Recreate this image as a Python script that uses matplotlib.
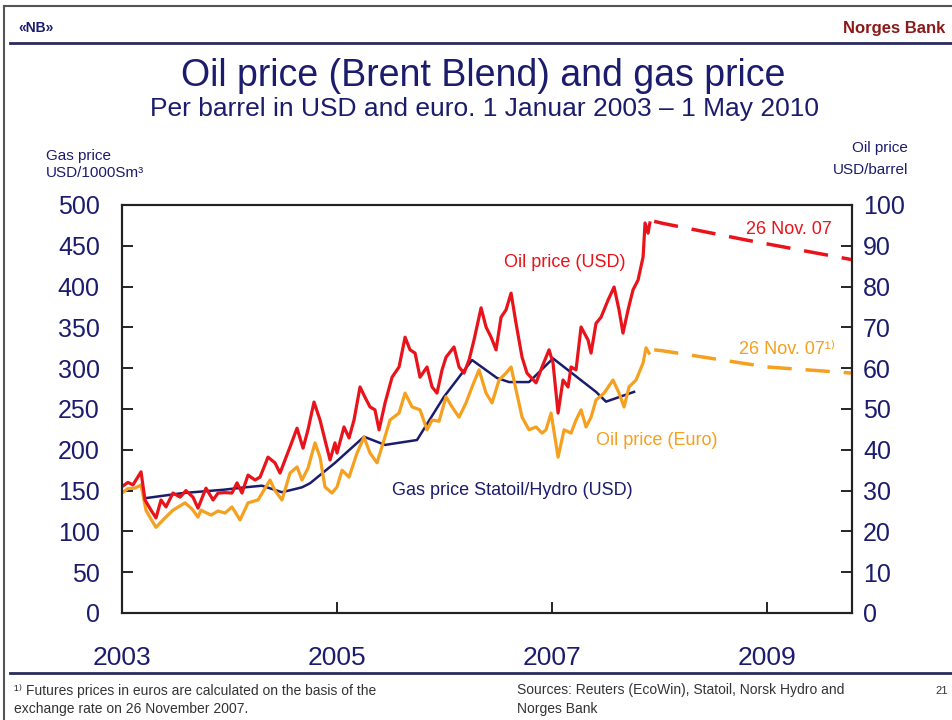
import matplotlib
matplotlib.use('Agg')
import matplotlib.pyplot as plt
from matplotlib.lines import Line2D

plt.rcParams['font.family'] = ['Liberation Sans', 'DejaVu Sans']

NAVY = '#1c1c6e'
RED = '#e8131b'
ORANGE = '#f5a01e'
DARKRED = '#8b1a1a'

# Brent in USD per barrel (decimal years)
usd_t = [2003.000, 2003.056, 2003.102, 2003.177, 2003.214, 2003.270, 2003.316, 2003.363, 2003.409,
         2003.474, 2003.540, 2003.595, 2003.660, 2003.707, 2003.781, 2003.847, 2003.893, 2003.958,
         2004.023, 2004.070, 2004.116, 2004.172, 2004.237, 2004.284, 2004.358, 2004.423, 2004.470,
         2004.516, 2004.563, 2004.628, 2004.684, 2004.730, 2004.786, 2004.842, 2004.888, 2004.935, 2004.981,
         2005.000, 2005.065, 2005.112, 2005.158, 2005.214, 2005.260, 2005.307, 2005.353, 2005.391, 2005.447,
         2005.512, 2005.577, 2005.633, 2005.679, 2005.726, 2005.772, 2005.837, 2005.884, 2005.930, 2005.977,
         2006.014, 2006.088, 2006.135, 2006.181, 2006.228, 2006.274, 2006.340, 2006.386, 2006.433, 2006.479,
         2006.526, 2006.572, 2006.619, 2006.665, 2006.721, 2006.767, 2006.851, 2006.907, 2006.972,
         2007.009, 2007.056, 2007.102, 2007.149, 2007.177, 2007.223, 2007.270, 2007.335, 2007.363, 2007.409,
         2007.456, 2007.521, 2007.577, 2007.623, 2007.660, 2007.707, 2007.753, 2007.800, 2007.847, 2007.865,
         2007.893, 2007.910]
usd_v = [31, 32, 31.4, 34.6, 27.7, 25.2, 23.3, 27.7, 26,
         29.4, 28.4, 30, 28.4, 25.7, 30.6, 27.7, 29.4, 29.5,
         29.4, 31.9, 29.4, 33.8, 32.6, 33.3, 38.2, 36.8, 34.3,
         37.5, 40.7, 45.3, 40.4, 44.9, 51.7, 47.3, 42.4, 37.5, 41.7,
         39.2, 45.6, 42.9, 47.3, 55.4, 52.9, 50.5, 49.8, 44.9, 51.5,
         57.8, 60.3, 67.6, 64.5, 63.7, 57.8, 60.3, 55.4, 53.9, 59.6,
         62.7, 65.2, 60.3, 58.8, 62, 66.9, 74.8, 70.1, 67.6, 64.5,
         72.5, 74.3, 78.4, 71, 62.7, 58.8, 56.4, 60.3, 64.5,
         61.3, 49, 57.1, 55.4, 60.3, 59.6, 70.1, 66.9, 63.7, 71,
         72.5, 76.7, 79.9, 74.3, 68.6, 74.3, 79.2, 81.6, 87.3, 95.6,
         93.1, 95.6]

# Brent in euro per barrel
eur_t = [2003.000, 2003.056, 2003.121, 2003.177, 2003.223, 2003.270, 2003.316, 2003.400, 2003.474,
         2003.586, 2003.651, 2003.707, 2003.735, 2003.828, 2003.893, 2003.958,
         2004.023, 2004.098, 2004.172, 2004.265, 2004.377, 2004.423, 2004.488, 2004.563, 2004.628,
         2004.674, 2004.730, 2004.795, 2004.842, 2004.888, 2004.953,
         2005.000, 2005.047, 2005.112, 2005.186, 2005.251, 2005.307, 2005.372, 2005.437, 2005.493,
         2005.577, 2005.633, 2005.698, 2005.772, 2005.837, 2005.884, 2005.949,
         2006.014, 2006.070, 2006.135, 2006.200, 2006.256, 2006.321, 2006.386, 2006.442, 2006.507,
         2006.572, 2006.619, 2006.665, 2006.721, 2006.786, 2006.851, 2006.907, 2006.944, 2006.991,
         2007.056, 2007.112, 2007.177, 2007.223, 2007.270, 2007.316, 2007.363, 2007.409, 2007.484,
         2007.567, 2007.623, 2007.670, 2007.716, 2007.781, 2007.847, 2007.874, 2007.902]
eur_v = [29.4, 30.5, 30.6, 31.4, 25.2, 23, 21, 23.3, 25.2,
         27, 25.5, 23.5, 25.2, 24, 25, 24.5,
         26, 22.8, 27, 27.7, 32.6, 30, 27.7, 34.3, 35.8,
         32.6, 35.5, 41.7, 38.2, 30.9, 29.4,
         30.9, 35, 33.3, 39.2, 43.1, 39.2, 36.8, 42.4, 47.3,
         49, 53.9, 50.5, 49.8, 44.9, 47.3, 47,
         53, 50.5, 48, 51.5, 55.4, 59.6, 53.9, 51.5, 57.1,
         58.8, 60.3, 54.7, 48, 44.9, 45.6, 44.1, 44.9, 49,
         38.2, 44.9, 44.1, 47.3, 49.8, 45.6, 48, 52.2, 53.9,
         57.1, 53.9, 50.5, 55.4, 57.1, 61.3, 65, 63.7]

# Gas price Statoil/Hydro, USD/1000Sm3
gas_t = [2003.233, 2003.567, 2003.940, 2004.144, 2004.302, 2004.488, 2004.674, 2004.749, 2004.981,
         2005.251, 2005.447, 2005.744, 2005.995, 2006.256, 2006.488, 2006.600, 2006.786, 2007.009,
         2007.409, 2007.502, 2007.763]
gas_v = [141, 147, 151, 154, 156, 148, 154, 159, 184,
         216, 206, 212, 265, 310, 288, 283, 283, 312,
         271, 259, 271]

# futures per 26 Nov. 07
fut_usd_t = [2007.95, 2008.03, 2008.81, 2009.79]
fut_usd_v = [96, 95.5, 91.4, 86.6]
fut_eur_t = [2007.95, 2008.02, 2009.00, 2009.79]
fut_eur_v = [64.5, 64.3, 60.3, 58.8]

year_ticks = [2003, 2005, 2007, 2009]
gas_ticks = list(range(0, 501, 50))
oil_ticks = list(range(0, 101, 10))

W, H = 952, 720


def fx(px):
    return px / W


def fy(py):
    return 1 - py / H


fig = plt.figure(figsize=(9.52, 7.2), dpi=100)

# slide frame and header/footer rules
fig.add_artist(Line2D([fx(4), 1], [fy(6), fy(6)], color='#555555', lw=1.5))
fig.add_artist(Line2D([fx(4), fx(4)], [fy(6), 0], color='#555555', lw=1.5))
fig.add_artist(Line2D([fx(10), 1], [fy(43), fy(43)], color='#2b2b5e', lw=2))
fig.add_artist(Line2D([fx(10), 1], [fy(673), fy(673)], color='#2b2b5e', lw=2))

fig.text(fx(18), fy(28), '«NB»', color=NAVY, fontsize=10, fontweight='bold', va='center')
fig.text(fx(945), fy(28), 'Norges Bank', color=DARKRED, fontsize=12, fontweight='bold',
         ha='right', va='center')
fig.text(fx(483), fy(76), 'Oil price (Brent Blend) and gas price', color=NAVY, fontsize=27,
         ha='center', va='center')
fig.text(fx(485), fy(109), 'Per barrel in USD and euro. 1 Januar 2003 – 1 May 2010', color=NAVY,
         fontsize=19, ha='center', va='center')

fig.text(fx(46), fy(156), 'Gas price', color=NAVY, fontsize=11, va='center')
fig.text(fx(46), fy(173), 'USD/1000Sm³', color=NAVY, fontsize=11, va='center')
fig.text(fx(908), fy(148), 'Oil price', color=NAVY, fontsize=11, ha='right', va='center')
fig.text(fx(908), fy(170), 'USD/barrel', color=NAVY, fontsize=11, ha='right', va='center')

fig.text(fx(14), fy(691), '¹⁾ Futures prices in euros are calculated on the basis of the',
         color='#333333', fontsize=10, va='center')
fig.text(fx(14), fy(709), 'exchange rate on 26 November 2007.', color='#333333', fontsize=10, va='center')
fig.text(fx(517), fy(690), 'Sources: Reuters (EcoWin), Statoil, Norsk Hydro and',
         color='#333333', fontsize=10, va='center')
fig.text(fx(517), fy(709), 'Norges Bank', color='#333333', fontsize=10, va='center')
fig.text(fx(935), fy(691), '21', color='#333333', fontsize=8, va='center')

ax = fig.add_axes([fx(122), fy(613), (852 - 122) / W, (613 - 205) / H])
ax2 = ax.twinx()

ax.plot(gas_t, gas_v, color=NAVY, lw=1.8)
ax2.plot(eur_t, eur_v, color=ORANGE, lw=2.3)
ax2.plot(usd_t, usd_v, color=RED, lw=2.3)
ax2.plot(fut_usd_t, fut_usd_v, color=RED, lw=2.5, dashes=(7, 4))
ax2.plot(fut_eur_t, fut_eur_v, color=ORANGE, lw=2.5, dashes=(7, 4))

ax2.text(2007.12, 86, 'Oil price (USD)', color=RED, fontsize=13, ha='center', va='center')
ax2.text(2007.97, 42.2, 'Oil price (Euro)', color=ORANGE, fontsize=13, ha='center', va='center')
ax2.text(2006.63, 30.1, 'Gas price Statoil/Hydro (USD)', color=NAVY, fontsize=13,
         ha='center', va='center')
ax2.text(2009.2, 94.1, '26 Nov. 07', color=RED, fontsize=13, ha='center', va='center')
ax2.text(2009.19, 64.5, '26 Nov. 07¹⁾', color=ORANGE, fontsize=13, ha='center', va='center')

ax.set_xlim(2003, 2009.79)
ax.set_ylim(0, 500)
ax2.set_ylim(0, 100)

ax.set_xticks(year_ticks)
ax.set_xticklabels([str(y) for y in year_ticks])
ax.set_yticks(gas_ticks)
ax2.set_yticks(oil_ticks)

ax.tick_params(axis='x', direction='in', length=8, width=1.2, labelsize=19, labelcolor=NAVY, pad=24)
ax.tick_params(axis='y', direction='in', length=8, width=1.2, labelsize=18, labelcolor=NAVY, pad=16)
ax2.tick_params(axis='y', direction='in', length=8, width=1.2, labelsize=18, labelcolor=NAVY, pad=8)

for a in (ax, ax2):
    for s in a.spines.values():
        s.set_linewidth(1.5)
        s.set_color('#222222')

fig.savefig('out.png', dpi=100)
